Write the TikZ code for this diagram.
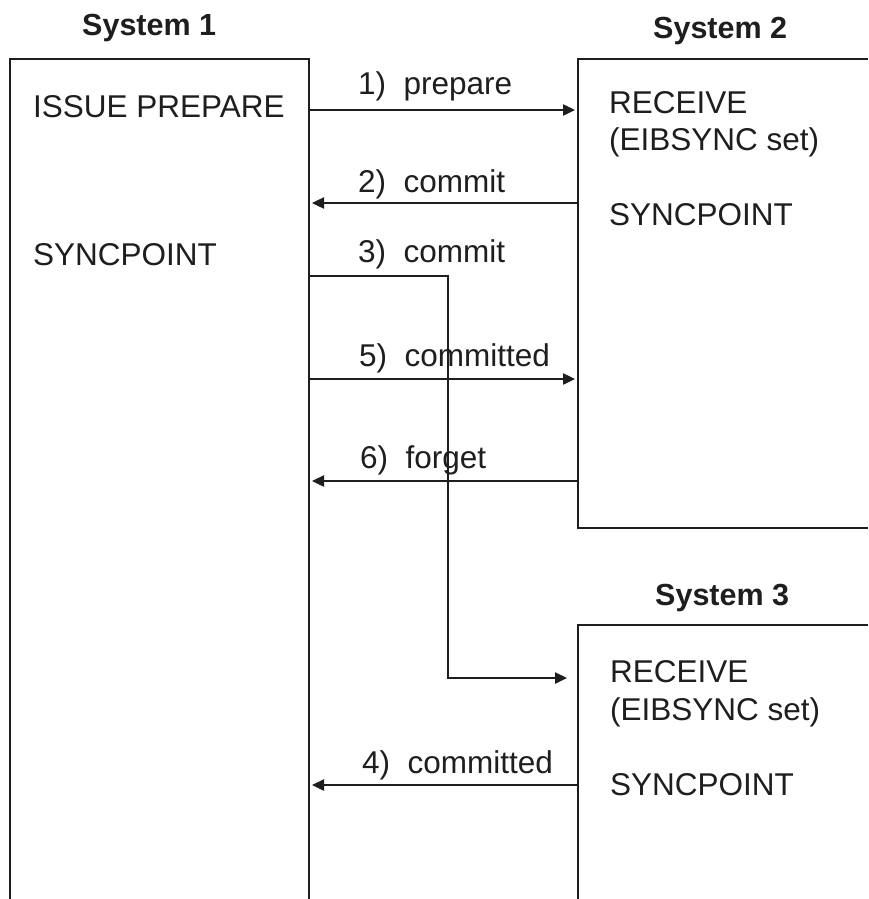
\documentclass[tikz,border=0pt]{standalone}
\usepackage{fontspec}
\setmainfont{Liberation Sans}
\usetikzlibrary{arrows.meta}
\definecolor{ink}{HTML}{1E1E1E}
\begin{document}
\begin{tikzpicture}[x=1pt,y=-1pt,
  frame/.style={draw=ink,line width=2.4pt},
  msg/.style={draw=ink,line width=2.4pt,-{Triangle[length=12pt,width=11pt]}},
  txt/.style={inner sep=0pt,anchor=base west,text=ink,font=\fontsize{31.5}{36}\selectfont},
  title/.style={inner sep=0pt,anchor=base west,text=ink,font=\fontsize{30.5}{36}\selectfont\bfseries}]
\useasboundingbox[fill=white] (0,0) rectangle (868,899);
% boxes
\draw[frame] (10,899) -- (10,59) -- (309,59) -- (309,899);
\draw[frame] (868,59) -- (578,59) -- (578,528) -- (868,528);
\draw[frame] (868,625) -- (578,625) -- (578,899);
% titles
\node[title] (t1) at (82,36) {System 1};
\node[title] (t2) at (653,38) {System 2};
\node[title] (t3) at (655,605) {System 3};
% texts system 1
\node[txt] (s1a) at (33,117) {ISSUE PREPARE};
\node[txt] (s1b) at (33,265) {SYNCPOINT};
% texts system 2
\node[txt] (s2a) at (609,113) {RECEIVE};
\node[txt] (s2b) at (609,150) {(EIBSYNC set)};
\node[txt] (s2c) at (609,225) {SYNCPOINT};
% texts system 3
\node[txt] (s3a) at (610,682) {RECEIVE};
\node[txt] (s3b) at (610,720) {(EIBSYNC set)};
\node[txt] (s3c) at (610,795) {SYNCPOINT};
% connector end points
\coordinate (p1s) at (310,110); \coordinate (p1e) at (575,110);
\coordinate (p2s) at (577,203); \coordinate (p2e) at (312,203);
\coordinate (p3s) at (310,276); \coordinate (p3a) at (448,276);
\coordinate (p3b) at (448,678); \coordinate (p3e) at (567,678);
\coordinate (p5s) at (310,379); \coordinate (p5e) at (575,379);
\coordinate (p6s) at (577,481); \coordinate (p6e) at (312,481);
\coordinate (p4s) at (577,785); \coordinate (p4e) at (312,785);
% connectors
\draw[msg] (p1s) -- (p1e);
\draw[msg] (p2s) -- (p2e);
\draw[msg] (p3s) -- (p3a) -- (p3b) -- (p3e);
\draw[msg] (p5s) -- (p5e);
\draw[msg] (p6s) -- (p6e);
\draw[msg] (p4s) -- (p4e);
% labels
\node[txt] (l1) at (358,94) {1)\ \ prepare};
\node[txt] (l2) at (358,192) {2)\ \ commit};
\node[txt] (l3) at (358,262) {3)\ \ commit};
\node[txt] (l5) at (359,366) {5)\ \ committed};
\node[txt] (l6) at (360,468) {6)\ \ forget};
\node[txt] (l4) at (362,773) {4)\ \ committed};
\end{tikzpicture}
\end{document}
